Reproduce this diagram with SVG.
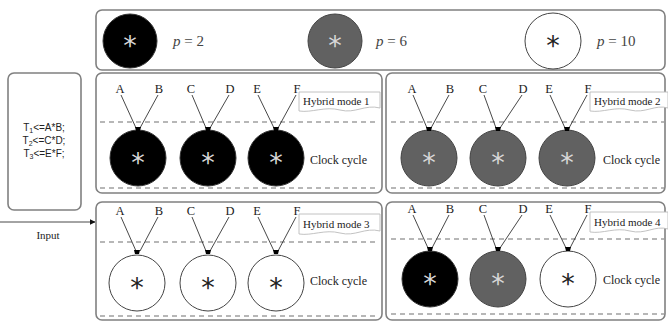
<svg xmlns="http://www.w3.org/2000/svg" width="668" height="322" viewBox="0 0 668 322">
<defs>
<marker id="ah" viewBox="0 0 10 10" refX="9" refY="5" markerWidth="6" markerHeight="6" orient="auto" markerUnits="userSpaceOnUse">
<path d="M0,0 L10,5 L0,10 Z" fill="#111"/>
</marker>
<style>
.box{fill:#fff;stroke:#808080;stroke-width:1.6}
.dash{stroke:#707070;stroke-width:1.2;stroke-dasharray:5 4;fill:none}
.wire{stroke:#333;stroke-width:0.9;fill:none}
.lbl{font-family:"Liberation Serif",serif;font-size:12.5px;fill:#222;text-anchor:middle}
.txt{font-family:"Liberation Serif",serif;font-size:11px;fill:#222}
.cc{font-family:"Liberation Serif",serif;font-size:12px;fill:#222}
.tag{fill:#fff;stroke:#bbb;stroke-width:0.9}
.pt{font-family:"Liberation Serif",serif;font-size:15px;fill:#444}
.ast{font-family:"DejaVu Sans",sans-serif;font-size:27px;text-anchor:middle}
.aw{fill:#d8d8d8}
.ab{fill:#222}
.k{fill:#000;stroke:#333;stroke-width:1}
.g{fill:#616161;stroke:#444;stroke-width:1}
.w{fill:#fff;stroke:#444;stroke-width:1}
.tip{fill:#000}
.code{font-family:"Liberation Sans",sans-serif;font-size:10px;fill:#222;text-anchor:middle}
</style>
</defs>

<g id="legend">
<rect class="box" x="96" y="10" width="569" height="60" rx="6"/>
<circle class="k" cx="130" cy="41" r="27"/>
<text class="ast aw" x="130" y="55">*</text>
<text class="pt" x="173" y="46"><tspan font-style="italic">p</tspan> = 2</text>
<circle class="g" cx="335" cy="41" r="27"/>
<text class="ast aw" x="335" y="55">*</text>
<text class="pt" x="376" y="46"><tspan font-style="italic">p</tspan> = 6</text>
<circle class="w" cx="553" cy="41" r="28"/>
<text class="ast ab" x="553" y="55">*</text>
<text class="pt" x="597" y="46"><tspan font-style="italic">p</tspan> = 10</text>
</g>

<g id="program">
<rect class="box" x="8" y="73" width="73" height="137" rx="6"/>
<text class="code" x="44" y="131">T<tspan font-size="7" dy="2">1</tspan><tspan dy="-2">&lt;=A*B;</tspan></text>
<text class="code" x="44" y="144">T<tspan font-size="7" dy="2">2</tspan><tspan dy="-2">&lt;=C*D;</tspan></text>
<text class="code" x="44" y="157">T<tspan font-size="7" dy="2">3</tspan><tspan dy="-2">&lt;=E*F;</tspan></text>
</g>

<g id="connectors">
<line class="wire" x1="0" y1="222" x2="95" y2="222" marker-end="url(#ah)" stroke="#111"/>
</g>
<text class="txt" x="48" y="239" text-anchor="middle" font-size="10.5">Input</text>

<g id="mode1">
<rect class="box" x="96" y="73" width="286" height="120" rx="6"/>
<path class="tag" d="M299,92 H380 V108 C365,104 355,114 340,110 C325,106 312,113 299,111 Z"/>
<text class="txt" x="303" y="105">Hybrid mode 1</text>
<line class="dash" x1="100" y1="122" x2="378" y2="122"/>
<line class="dash" x1="100" y1="188" x2="378" y2="188"/>
<text class="lbl" x="120" y="93">A</text><text class="lbl" x="159" y="93">B</text>
<text class="lbl" x="191" y="93">C</text><text class="lbl" x="230" y="93">D</text>
<text class="lbl" x="257" y="93">E</text><text class="lbl" x="297" y="93">F</text>
<path class="wire" d="M121,95 L136,128 M158,95 L140,128 M192,95 L206,128 M229,95 L210,128 M258,95 L274,128 M296,95 L278,128"/>
<circle class="k" cx="138" cy="158" r="28"/><path class="tip" d="M135,127 H141 L140,131 H136 Z"/>
<text class="ast aw" x="138" y="172">*</text>
<circle class="k" cx="208" cy="158" r="28"/><path class="tip" d="M205,127 H211 L210,131 H206 Z"/>
<text class="ast aw" x="208" y="172">*</text>
<circle class="k" cx="276" cy="158" r="28"/><path class="tip" d="M273,127 H279 L278,131 H274 Z"/>
<text class="ast aw" x="276" y="172">*</text>
<text class="cc" x="310" y="164">Clock cycle</text>
</g>

<g id="mode2">
<rect class="box" x="386" y="73" width="279" height="120" rx="6"/>
<path class="tag" d="M590,92 H668 V108 C655,104 645,114 630,110 C615,106 603,113 590,111 Z"/>
<text class="txt" x="594" y="105">Hybrid mode 2</text>
<line class="dash" x1="391" y1="122" x2="664" y2="122"/>
<line class="dash" x1="391" y1="188" x2="664" y2="188"/>
<text class="lbl" x="412" y="93">A</text><text class="lbl" x="450" y="93">B</text>
<text class="lbl" x="483" y="93">C</text><text class="lbl" x="523" y="93">D</text>
<text class="lbl" x="549" y="93">E</text><text class="lbl" x="588" y="93">F</text>
<path class="wire" d="M413,95 L427,128 M449,95 L431,128 M484,95 L496,128 M522,95 L500,128 M550,95 L565,128 M587,95 L569,128"/>
<circle class="g" cx="429" cy="158" r="28"/><path class="tip" d="M426,127 H432 L431,131 H427 Z"/>
<text class="ast aw" x="429" y="172">*</text>
<circle class="g" cx="498" cy="158" r="28"/><path class="tip" d="M495,127 H501 L500,131 H496 Z"/>
<text class="ast aw" x="498" y="172">*</text>
<circle class="g" cx="567" cy="158" r="28"/><path class="tip" d="M564,127 H570 L569,131 H565 Z"/>
<text class="ast aw" x="567" y="172">*</text>
<text class="cc" x="603" y="164">Clock cycle</text>
</g>

<g id="mode3">
<rect class="box" x="96" y="202" width="286" height="118" rx="6"/>
<path class="tag" d="M299,214 H380 V231 C365,227 355,237 340,233 C325,229 312,236 299,234 Z"/>
<text class="txt" x="303" y="228">Hybrid mode 3</text>
<line class="dash" x1="100" y1="242" x2="378" y2="242"/>
<line class="dash" x1="100" y1="316" x2="378" y2="316"/>
<text class="lbl" x="120" y="215">A</text><text class="lbl" x="159" y="215">B</text>
<text class="lbl" x="191" y="215">C</text><text class="lbl" x="230" y="215">D</text>
<text class="lbl" x="257" y="215">E</text><text class="lbl" x="297" y="215">F</text>
<path class="wire" d="M121,217 L136,251 M158,217 L140,251 M192,217 L206,251 M229,217 L210,251 M258,217 L274,251 M296,217 L278,251"/>
<circle class="w" cx="137" cy="283" r="28"/><path class="tip" d="M134,250 H140 L139,254 H135 Z"/>
<text class="ast ab" x="137" y="297">*</text>
<circle class="w" cx="208" cy="283" r="28"/><path class="tip" d="M205,250 H211 L210,254 H206 Z"/>
<text class="ast ab" x="208" y="297">*</text>
<circle class="w" cx="276" cy="283" r="28"/><path class="tip" d="M273,250 H279 L278,254 H274 Z"/>
<text class="ast ab" x="276" y="297">*</text>
<text class="cc" x="310" y="285">Clock cycle</text>
</g>

<g id="mode4">
<rect class="box" x="386" y="202" width="279" height="118" rx="6"/>
<path class="tag" d="M590,212 H668 V229 C655,225 645,235 630,231 C615,227 603,234 590,232 Z"/>
<text class="txt" x="594" y="226">Hybrid mode 4</text>
<line class="dash" x1="391" y1="239" x2="664" y2="239"/>
<line class="dash" x1="391" y1="314" x2="664" y2="314"/>
<text class="lbl" x="412" y="213">A</text><text class="lbl" x="450" y="213">B</text>
<text class="lbl" x="483" y="213">C</text><text class="lbl" x="523" y="213">D</text>
<text class="lbl" x="549" y="213">E</text><text class="lbl" x="588" y="213">F</text>
<path class="wire" d="M413,215 L428,248 M449,215 L432,248 M484,215 L496,248 M522,215 L500,248 M550,215 L566,248 M587,215 L570,248"/>
<circle class="k" cx="430" cy="279" r="28"/><path class="tip" d="M427,247 H433 L432,251 H428 Z"/>
<text class="ast aw" x="430" y="293">*</text>
<circle class="g" cx="498" cy="279" r="28"/><path class="tip" d="M495,247 H501 L500,251 H496 Z"/>
<text class="ast aw" x="498" y="293">*</text>
<circle class="w" cx="568" cy="279" r="28"/><path class="tip" d="M565,247 H571 L570,251 H566 Z"/>
<text class="ast ab" x="568" y="293">*</text>
<text class="cc" x="603" y="284">Clock cycle</text>
</g>
</svg>
